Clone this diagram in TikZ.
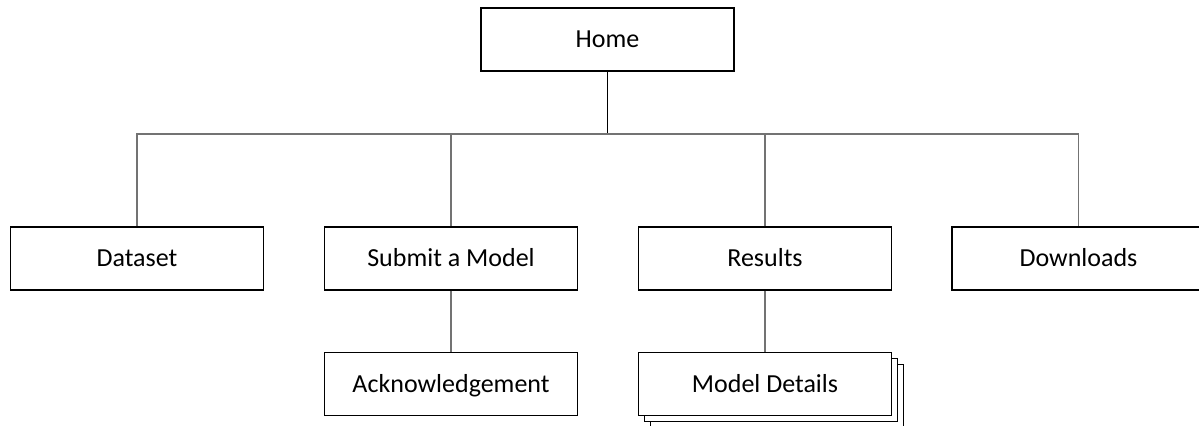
\documentclass[tikz,border=0pt]{standalone}
\usepackage{fontspec}
\setmainfont{Carlito}
\begin{document}
\begin{tikzpicture}[x=0.75pt,y=-0.75pt,
  box/.style={draw=black,line width=1.1pt,fill=white,rectangle,inner sep=0pt,
    minimum width=190pt,minimum height=47pt,text height=16pt,text depth=3.4pt,
    font=\fontsize{19.5}{22}\selectfont},
  link/.style={draw=black!55,line width=0.8pt},
  trunk/.style={draw=black,line width=1.1pt}]
\useasboundingbox (0,0) rectangle (1199,425);

% top level
\node[box] (home) at (607.5,39.5) {Home};
\coordinate (bus) at (607.5,134);

% second level
\node[box] (dataset) at (137,258.5) {Dataset};
\node[box] (submit) at (451,258.5) {Submit a Model};
\node[box] (results) at (765,258.5) {Results};
\node[box] (downloads) at (1078.5,258.5) {Downloads};

% third level; model details drawn as a stack of pages
\node[box] (ack) at (451,384) {Acknowledgement};
\node[box] (md3) at (777,396) {};
\node[box] (md2) at (771,390) {};
\node[box] (md) at (765,384) {Model Details};

% connectors
\draw[trunk] (home.south) -- (bus);
\draw[link] (dataset.north) -- (dataset.north |- bus) -- (downloads.north |- bus) -- (downloads.north);
\draw[link] (submit.north) -- (submit.north |- bus);
\draw[link] (results.north) -- (results.north |- bus);
\draw[link] (submit.south) -- (ack.north);
\draw[link] (results.south) -- (md.north);
\end{tikzpicture}
\end{document}
